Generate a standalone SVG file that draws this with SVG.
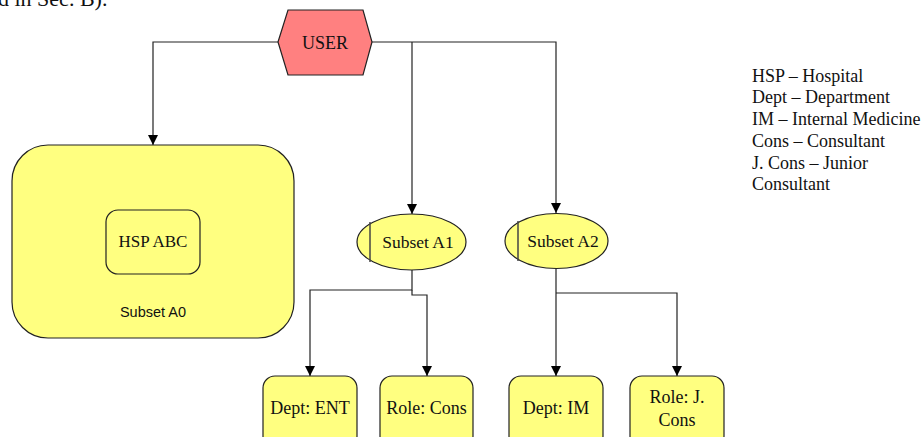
<svg xmlns="http://www.w3.org/2000/svg" width="923" height="437" viewBox="0 0 923 437">
  <style>
    .serif { font-family: "Liberation Serif", "Times New Roman", serif; fill: #111; }
    .sans { font-family: "Liberation Sans", Arial, sans-serif; fill: #111; }
    .node { fill: #FFFF80; stroke: #222; stroke-width: 1.2; }
    .wire { fill: none; stroke: #222; stroke-width: 1.2; }
    .mid { text-anchor: middle; }
  </style>
  <defs>
    <marker id="arrow" viewBox="0 0 10 10" refX="10" refY="5" markerWidth="10" markerHeight="10" markerUnits="userSpaceOnUse" orient="auto">
      <path d="M0,0 L10,5 L0,10 z" fill="#000"/>
    </marker>
  </defs>
  <rect width="923" height="437" fill="#fff"/>

  <!-- trailing line of the preceding paragraph -->
  <text class="serif" x="-2" y="6" font-size="22">d in Sec. B).</text>

  <!-- connectors -->
  <g id="connectors">
    <path class="wire" d="M278,42 H153 V145" marker-end="url(#arrow)"/>
    <path class="wire" d="M372,42 H556 V213" marker-end="url(#arrow)"/>
    <path class="wire" d="M412,42 V214" marker-end="url(#arrow)"/>
    <path class="wire" d="M412,270 V290 H310 V376" marker-end="url(#arrow)"/>
    <path class="wire" d="M412,290 V295 H427 V376" marker-end="url(#arrow)"/>
    <path class="wire" d="M556,268 V376" marker-end="url(#arrow)"/>
    <path class="wire" d="M556,293 H677 V376" marker-end="url(#arrow)"/>
  </g>

  <g id="user">
    <polygon points="278,42 288,10 363,10 372,42 363,75 288,75" fill="#FF8080" stroke="#222" stroke-width="1.2"/>
    <text class="serif mid" x="325" y="49" font-size="18">USER</text>
  </g>

  <g id="subset-a0">
    <rect class="node" x="12" y="145" width="282" height="193" rx="36" ry="36"/>
    <rect class="node" x="106" y="210" width="94" height="64" rx="12" ry="12"/>
    <text class="serif mid" x="153" y="247" font-size="17">HSP ABC</text>
    <text class="sans mid" x="153" y="317" font-size="14.5">Subset A0</text>
  </g>

  <g id="subset-a1">
    <ellipse class="node" cx="411.5" cy="242" rx="54.5" ry="28"/>
    <line x1="370" y1="222" x2="370" y2="262" stroke="#444" stroke-width="1.5"/>
    <text class="serif mid" x="418" y="248" font-size="17.5">Subset A1</text>
  </g>

  <g id="subset-a2">
    <ellipse class="node" cx="556.5" cy="241" rx="51.5" ry="27.5"/>
    <line x1="518" y1="221" x2="518" y2="261" stroke="#444" stroke-width="1.5"/>
    <text class="serif mid" x="563" y="247" font-size="17.5">Subset A2</text>
  </g>

  <g id="dept-ent">
    <rect class="node" x="263" y="376" width="94" height="72" rx="12" ry="12"/>
    <text class="serif mid" x="310" y="414" font-size="18">Dept: ENT</text>
  </g>

  <g id="role-cons">
    <rect class="node" x="380" y="376" width="93" height="72" rx="12" ry="12"/>
    <text class="serif mid" x="426.5" y="414" font-size="18">Role: Cons</text>
  </g>

  <g id="dept-im">
    <rect class="node" x="509" y="376" width="94" height="72" rx="12" ry="12"/>
    <text class="serif mid" x="556" y="414" font-size="18">Dept: IM</text>
  </g>

  <g id="role-jcons">
    <rect class="node" x="630" y="376" width="94" height="72" rx="12" ry="12"/>
    <text class="serif mid" x="677" y="403" font-size="18">Role: J.</text>
    <text class="serif mid" x="677" y="426" font-size="18">Cons</text>
  </g>

  <g id="legend" class="serif" font-size="18">
    <text x="752" y="82">HSP – Hospital</text>
    <text x="752" y="103">Dept – Department</text>
    <text x="752" y="125">IM – Internal Medicine</text>
    <text x="752" y="147">Cons – Consultant</text>
    <text x="752" y="169">J. Cons – Junior</text>
    <text x="752" y="190">Consultant</text>
  </g>
</svg>
